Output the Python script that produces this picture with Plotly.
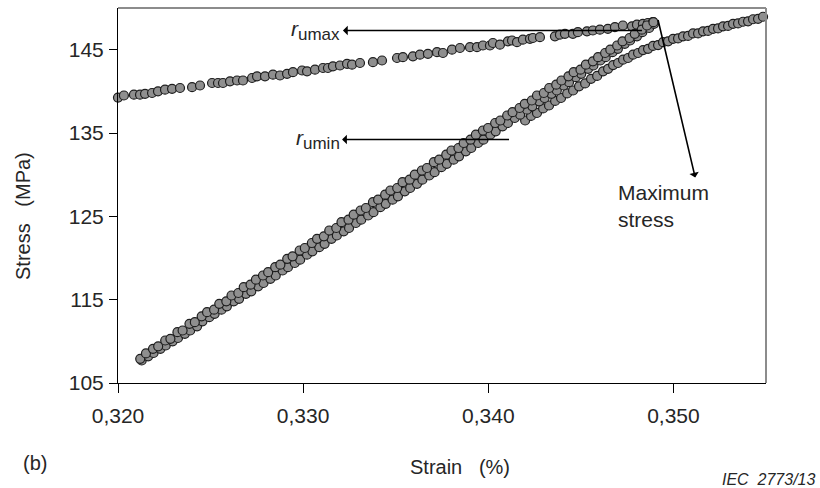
import plotly.graph_objects as go

# ---- Stress–strain data (strain in %, stress in MPa) ----
# upper, shallow branch ending at the maximum stress
upper_strain = [0.32000, 0.32032, 0.32086, 0.32119, 0.32146, 0.32184, 0.32216, 0.32254, 0.32292, 0.32335,
                0.32400, 0.32443, 0.32508, 0.32540, 0.32567, 0.32605, 0.32643, 0.32675, 0.32724, 0.32751,
                0.32794, 0.32837, 0.32875, 0.32913, 0.32945, 0.32994, 0.33021, 0.33064, 0.33107, 0.33134,
                0.33161, 0.33199, 0.33237, 0.33264, 0.33307, 0.33377, 0.33426, 0.33507, 0.33539, 0.33593,
                0.33631, 0.33674, 0.33723, 0.33755, 0.33804, 0.33847, 0.33901, 0.33939, 0.33971, 0.34009,
                0.34025, 0.34063, 0.34106, 0.34128, 0.34155, 0.34187, 0.34225, 0.34241, 0.34279, 0.34360,
                0.34387, 0.34414, 0.34457, 0.34484, 0.34533, 0.34565, 0.34603, 0.34646, 0.34684, 0.34727,
                0.34776, 0.34803, 0.34835, 0.34862, 0.34889]
upper_stress = [139.25, 139.5, 139.6, 139.6, 139.7, 139.8, 140.0, 140.2, 140.3, 140.4,
                140.5, 140.7, 141.0, 141.0, 141.0, 141.2, 141.3, 141.3, 141.6, 141.8,
                141.8, 142.0, 141.9, 142.1, 142.3, 142.5, 142.4, 142.6, 142.8, 142.8,
                143.0, 143.1, 143.3, 143.2, 143.4, 143.5, 143.7, 144.0, 144.1, 144.2,
                144.4, 144.5, 144.7, 144.6, 145.0, 145.2, 145.3, 145.3, 145.5, 145.5,
                145.8, 145.6, 146.0, 146.1, 145.9, 146.2, 146.3, 146.4, 146.5, 146.6,
                146.8, 146.9, 146.9, 147.1, 147.2, 147.3, 147.4, 147.5, 147.7, 147.9,
                147.8, 148.0, 148.1, 148.2, 148.3]

# steep loading branch, first strand
load1_strain = [0.32120, 0.32151, 0.32189, 0.32217, 0.32255, 0.32283, 0.32321, 0.32349, 0.32386, 0.32415,
                0.32452, 0.32481, 0.32519, 0.32547, 0.32585, 0.32613, 0.32650, 0.32679, 0.32716, 0.32745,
                0.32783, 0.32811, 0.32849, 0.32877, 0.32914, 0.32943, 0.32981, 0.33009, 0.33047, 0.33075,
                0.33112, 0.33141, 0.33179, 0.33207, 0.33245, 0.33273, 0.33310, 0.33339, 0.33377, 0.33405,
                0.33443, 0.33471, 0.33508, 0.33537, 0.33575, 0.33603, 0.33641, 0.33669, 0.33706, 0.33735,
                0.33773, 0.33801, 0.33839, 0.33867, 0.33904, 0.33933, 0.33971, 0.33999, 0.34037, 0.34065,
                0.34102, 0.34131, 0.34169, 0.34197, 0.34235, 0.34263, 0.34300, 0.34329, 0.34367, 0.34395,
                0.34433, 0.34461, 0.34498, 0.34527, 0.34565, 0.34593, 0.34631, 0.34659, 0.34696, 0.34725,
                0.34763, 0.34791, 0.34829, 0.34857, 0.34892]
load1_stress = [107.9, 108.55, 109.1, 109.4, 110.1, 110.3, 111.1, 111.3, 112.1, 112.3,
                113.0, 113.5, 113.8, 114.5, 114.8, 115.5, 115.8, 116.5, 116.8, 117.4,
                117.9, 118.3, 118.9, 119.2, 119.9, 120.2, 120.9, 121.2, 121.8, 122.3,
                122.6, 123.3, 123.6, 124.3, 124.6, 125.2, 125.7, 126.0, 126.7, 127.0,
                127.6, 128.1, 128.4, 129.1, 129.4, 130.0, 130.5, 130.8, 131.5, 131.8,
                132.4, 132.9, 133.2, 133.8, 134.2, 134.8, 135.3, 135.6, 136.2, 136.5,
                137.1, 137.5, 138.0, 138.5, 138.9, 139.5, 139.8, 140.4, 140.8, 141.3,
                141.8, 142.3, 142.6, 143.2, 143.6, 144.1, 144.6, 145.0, 145.5, 146.0,
                146.4, 146.9, 147.4, 147.9, 148.3]

# steep branch, second strand
load2_strain = [0.32128, 0.32163, 0.32192, 0.32229, 0.32258, 0.32295, 0.32324, 0.32361, 0.32390, 0.32427,
                0.32456, 0.32493, 0.32522, 0.32559, 0.32588, 0.32625, 0.32654, 0.32691, 0.32720, 0.32757,
                0.32786, 0.32823, 0.32852, 0.32889, 0.32918, 0.32955, 0.32984, 0.33021, 0.33050, 0.33087,
                0.33116, 0.33153, 0.33182, 0.33219, 0.33248, 0.33285, 0.33314, 0.33351, 0.33380, 0.33417,
                0.33446, 0.33483, 0.33512, 0.33549, 0.33578, 0.33615, 0.33644, 0.33681, 0.33710, 0.33747,
                0.33776, 0.33813, 0.33842, 0.33879, 0.33908, 0.33945, 0.33974, 0.34011, 0.34040, 0.34077,
                0.34106, 0.34143, 0.34172, 0.34209, 0.34238, 0.34275, 0.34304, 0.34341, 0.34370, 0.34407,
                0.34436, 0.34473, 0.34502, 0.34539, 0.34568, 0.34605, 0.34634, 0.34671, 0.34700, 0.34737,
                0.34766, 0.34803, 0.34832, 0.34869, 0.34895]
load2_stress = [107.7, 108.2, 108.6, 109.1, 109.5, 110.0, 110.4, 110.9, 111.3, 111.8,
                112.4, 112.9, 113.3, 113.8, 114.2, 114.8, 115.1, 115.7, 116.0, 116.6,
                117.0, 117.5, 117.9, 118.5, 118.9, 119.4, 119.8, 120.4, 120.8, 121.3,
                121.7, 122.3, 122.7, 123.2, 123.6, 124.2, 124.6, 125.1, 125.5, 126.1,
                126.5, 127.0, 127.4, 128.0, 128.4, 128.9, 129.4, 129.9, 130.3, 130.9,
                131.3, 131.8, 132.2, 132.8, 133.2, 133.8, 134.2, 134.8, 135.2, 135.8,
                136.2, 136.8, 137.2, 137.8, 138.2, 138.8, 139.2, 139.7, 140.1, 140.7,
                141.1, 141.7, 142.1, 142.7, 143.1, 143.7, 144.1, 144.7, 145.1, 145.7,
                146.1, 146.6, 147.1, 147.6, 148.1]

# branch continuing past the maximum towards larger strain
tail_strain = [0.34199, 0.34231, 0.34263, 0.34296, 0.34328, 0.34361, 0.34393, 0.34426, 0.34458, 0.34490,
               0.34523, 0.34555, 0.34588, 0.34620, 0.34647, 0.34674, 0.34701, 0.34728, 0.34755, 0.34782,
               0.34809, 0.34836, 0.34863, 0.34890, 0.34917, 0.34944, 0.34971, 0.34998, 0.35025, 0.35052,
               0.35079, 0.35106, 0.35133, 0.35160, 0.35187, 0.35214, 0.35241, 0.35268, 0.35295, 0.35322,
               0.35349, 0.35376, 0.35403, 0.35430, 0.35457, 0.35484]
tail_stress = [136.5, 137.05, 137.4, 137.95, 138.3, 138.85, 139.2, 139.75, 140.1, 140.6,
               140.95, 141.5, 141.85, 142.4, 142.7, 143.15, 143.4, 143.8, 144.0, 144.4,
               144.6, 144.95, 145.1, 145.45, 145.55, 145.9, 146.0, 146.3, 146.35, 146.6,
               146.65, 146.95, 146.95, 147.2, 147.25, 147.5, 147.55, 147.8, 147.85, 148.1,
               148.15, 148.35, 148.4, 148.65, 148.7, 148.95]

# axis ticks
strain_ticks = [0.320, 0.330, 0.340, 0.350]
strain_tick_text = ["0,320", "0,330", "0,340", "0,350"]
stress_ticks = [105, 115, 125, 135, 145]
stress_tick_text = ["105", "115", "125", "135", "145"]

FONT = "Arial, 'Liberation Sans', sans-serif"
TEXT = "#262626"

marker_style = dict(size=9, color="#8f8f8f", line=dict(color="#1e1e1e", width=1.2))

fig = go.Figure()
for xs, ys in [(upper_strain, upper_stress), (tail_strain, tail_stress),
               (load2_strain, load2_stress), (load1_strain, load1_stress)]:
    fig.add_trace(go.Scatter(x=xs, y=ys, mode="markers", marker=marker_style,
                             cliponaxis=False, showlegend=False, hoverinfo="skip"))

axis_common = dict(showgrid=False, zeroline=False, showline=True, linecolor="#000000", linewidth=1,
                   ticks="outside", tickcolor="#000000", tickwidth=1,
                   tickfont=dict(family=FONT, size=21, color=TEXT))

fig.update_layout(
    width=820, height=488,
    margin=dict(l=118, r=54, t=8, b=105),
    paper_bgcolor="white", plot_bgcolor="white",
    font=dict(family=FONT, size=20, color=TEXT),
    xaxis=dict(range=[0.320, 0.355], tickvals=strain_ticks, ticktext=strain_tick_text,
               ticklen=9, ticklabelstandoff=5, **axis_common),
    yaxis=dict(range=[105, 150], tickvals=stress_ticks, ticktext=stress_tick_text,
               ticklen=8, ticklabelstandoff=1, **axis_common),
)

# grey frame on the top and right sides of the plot area
for x0, y0, x1, y1 in [(0, 1, 1, 1), (1, 0, 1, 1)]:
    fig.add_shape(type="line", xref="x domain", yref="y domain", x0=x0, y0=y0, x1=x1, y1=y1,
                  line=dict(color="#8c8c8c", width=2))


def callout(text, text_x, text_y, end_x, end_y, size=20, **kw):
    """Label at (text_x, text_y) with a line to (end_x, end_y); the arrowhead sits at the label."""
    fig.add_annotation(x=end_x, y=end_y, ax=text_x, ay=text_y, xref="x", yref="y",
                       axref="x", ayref="y", text=text, showarrow=True, arrowside="start",
                       arrowhead=2, arrowsize=1, arrowwidth=1.6, arrowcolor="#000000",
                       standoff=0, startstandoff=1,
                       font=dict(family=FONT, size=size, color=TEXT), **kw)


SUB = "<i>r</i><sub><span style='font-size:17px'>{}</span></sub>"
callout(SUB.format("umax"), 0.33069, 147.30, 0.34830, 147.30, size=21)
callout(SUB.format("umin"), 0.33078, 134.22, 0.34112, 134.22, size=21)
callout("Maximum<br>stress", 0.35154, 126.24, 0.34917, 148.56, size=21,
        width=168, height=52, align="left", valign="middle")


def label(text, x, y, size, xanchor, italic=False, **kw):
    fig.add_annotation(x=x, y=y, xref="paper", yref="paper", text=text, showarrow=False,
                       xanchor=xanchor, yanchor="middle",
                       font=dict(family=FONT, size=size, color=TEXT,
                                 style="italic" if italic else "normal"), **kw)


# axis titles and figure labels
label("Stress\u00a0\u00a0\u00a0(MPa)", -0.1466, 0.4453, 20, "center", textangle=-90)
label("Strain\u00a0\u00a0\u00a0(%)", 0.5278, -0.224, 20, "center")
label("(b)", -0.1281, -0.2133, 20, "center")
label("IEC\u00a0\u00a02773/13", 1.0802, -0.256, 16, "right", italic=True)

fig.write_html("out.html")
